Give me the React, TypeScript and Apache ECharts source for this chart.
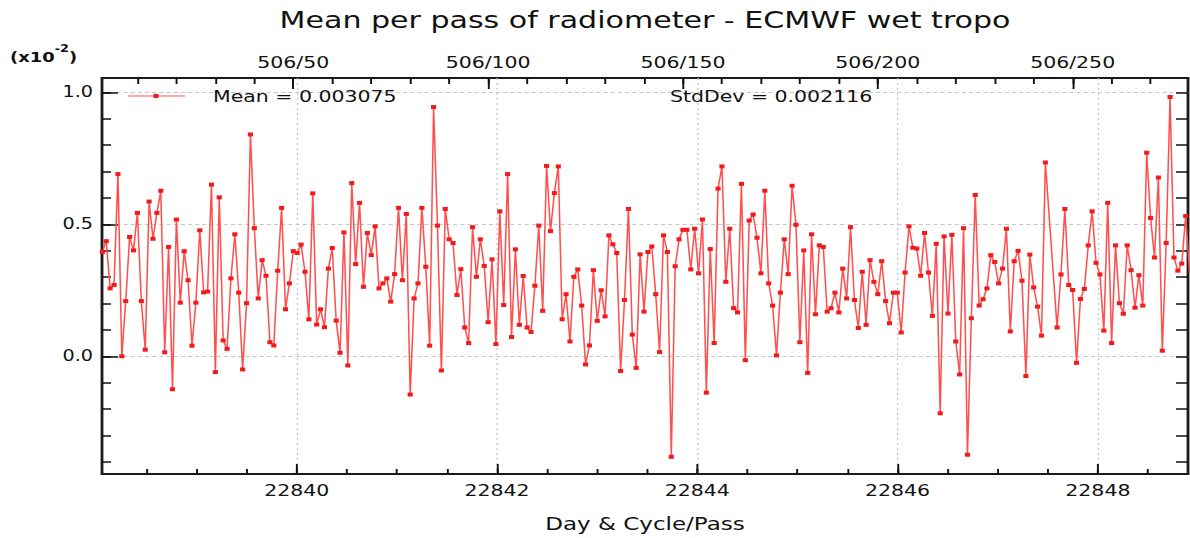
import React, { useEffect, useRef } from 'react';
import * as echarts from 'echarts';

// ---------- texts ----------
const chartTitle = 'Mean per pass of radiometer - ECMWF wet tropo';
const cycleNumber = 506;
const meanLabel = 'Mean = 0.003075';
const stdDevLabel = 'StdDev = 0.002116';
const xAxisTitle = 'Day & Cycle/Pass';

// ---------- data: mean per pass (units of 1e-2), pass numbers start at 1 ----------
const firstPass = 1;
const meanPass001to040 = [
  0.395, 0.436, 0.257, 0.270, 0.690, 0.000, 0.209, 0.452, 0.401, 0.543,
  0.209, 0.025, 0.586, 0.445, 0.543, 0.627, 0.015, 0.414, -0.125, 0.518,
  0.203, 0.398, 0.288, 0.040, 0.203, 0.477, 0.242, 0.245, 0.650, -0.060,
  0.602, 0.060, 0.028, 0.295, 0.462, 0.241, -0.050, 0.201, 0.840, 0.485,
];
const meanPass041to080 = [
  0.219, 0.364, 0.305, 0.053, 0.041, 0.324, 0.562, 0.178, 0.276, 0.398,
  0.391, 0.423, 0.320, 0.140, 0.617, 0.120, 0.178, 0.110, 0.332, 0.410,
  0.135, 0.013, 0.469, -0.035, 0.656, 0.349, 0.581, 0.263, 0.467, 0.383,
  0.492, 0.257, 0.276, 0.295, 0.207, 0.311, 0.562, 0.288, 0.539, -0.145,
];
const meanPass081to120 = [
  0.219, 0.276, 0.562, 0.339, 0.040, 0.944, 0.495, -0.054, 0.558, 0.443,
  0.429, 0.232, 0.330, 0.109, 0.050, 0.489, 0.301, 0.443, 0.342, 0.129,
  0.367, 0.046, 0.549, 0.194, 0.690, 0.073, 0.405, 0.119, 0.304, 0.109,
  0.092, 0.267, 0.495, 0.172, 0.721, 0.474, 0.618, 0.719, 0.140, 0.235,
];
const meanPass121to160 = [
  0.056, 0.301, 0.329, 0.192, -0.031, 0.041, 0.326, 0.134, 0.250, 0.151,
  0.458, 0.424, 0.391, -0.056, 0.213, 0.558, 0.082, -0.044, 0.386, 0.169,
  0.395, 0.416, 0.235, 0.016, 0.458, 0.395, -0.381, 0.341, 0.443, 0.479,
  0.479, 0.329, 0.483, 0.314, 0.518, -0.138, 0.406, 0.050, 0.635, 0.719,
];
const meanPass161to200 = [
  0.282, 0.483, 0.182, 0.166, 0.653, -0.015, 0.514, 0.537, 0.449, 0.314,
  0.627, 0.276, 0.192, 0.003, 0.241, 0.443, 0.311, 0.646, 0.498, 0.053,
  0.401, -0.063, 0.462, 0.159, 0.420, 0.414, 0.169, 0.182, 0.241, 0.166,
  0.332, 0.219, 0.489, 0.213, 0.107, 0.320, 0.119, 0.364, 0.282, 0.235,
];
const meanPass201to240 = [
  0.360, 0.209, 0.125, 0.241, 0.241, 0.090, 0.317, 0.492, 0.411, 0.408,
  0.305, 0.467, 0.317, 0.153, 0.426, -0.216, 0.454, 0.162, 0.460, 0.056,
  -0.069, 0.485, -0.373, 0.144, 0.611, 0.192, 0.216, 0.257, 0.383, 0.357,
  0.276, 0.332, 0.483, 0.094, 0.360, 0.399, 0.286, -0.075, 0.385, 0.261,
];
const meanPass241to280: (number | null)[] = [
  0.188, 0.078, 0.734, null, null, 0.109, 0.310, 0.558, 0.270, 0.251,
  -0.025, 0.217, 0.255, 0.420, 0.549, 0.354, 0.310, 0.097, 0.581, 0.050,
  0.420, 0.201, 0.161, 0.420, 0.326, 0.184, 0.307, 0.192, 0.771, 0.524,
  0.374, 0.677, 0.021, 0.429, 0.982, 0.374, 0.324, 0.351, 0.531, 0.317,
];

// ---------- axes ----------
const dayRange = [22838.055, 22848.9];
const passRange = [0.91, 279.6];
const yRange = [-0.446, 1.054];
const dayLabelTicks = [22840, 22842, 22844, 22846, 22848];
const passLabelTicks = [50, 100, 150, 200, 250];
const yLabelTicks = [0, 0.5, 1.0];
const dayMinorStep = 0.5;
const passMinorStep = 10;
const yMinorStep = 0.1;

const steps = (lo: number, hi: number, step: number) => {
  const out: number[] = [];
  const start = Math.ceil(lo / step - 1e-9);
  const end = Math.floor(hi / step + 1e-9);
  for (let k = start; k <= end; k++) out.push(+(k * step).toFixed(6));
  return out;
};

// ---------- layout (reference is horizontally stretched) ----------
const W = 1190;
const H = 538;
const IW = 930;
const S = W / IW;
const hx = (x: number) => x / S;
const FONT = "'DejaVu Sans', Verdana, sans-serif";
const LINE_COLOR = '#ff4f4f';
const MARK_COLOR = '#f01c1c';

export default function App() {
  const ref = useRef<HTMLDivElement>(null);

  useEffect(() => {
    if (!ref.current) return;
    const chart = echarts.init(ref.current, null, { renderer: 'svg' });

    const allMeans = [
      ...meanPass001to040, ...meanPass041to080, ...meanPass081to120,
      ...meanPass121to160, ...meanPass161to200, ...meanPass201to240,
      ...meanPass241to280,
    ];
    const seriesData = allMeans
      .map((v, i) => [firstPass + i, v] as [number, number | null])
      .filter((d) => d[1] !== null);

    const gridLeft = hx(102);
    const gridRight = IW - hx(1188);
    const gridTop = 78;
    const gridBottom = H - 476;

    const tickStyle = { color: '#111', width: 1.5 };
    const labelStyle = { color: '#111', fontFamily: FONT };

    const option: any = {
      animation: false,
      backgroundColor: '#fff',
      textStyle: { fontFamily: FONT },
      grid: {
        left: gridLeft, right: gridRight, top: gridTop, bottom: gridBottom,
        show: true, borderColor: '#1a1a1a', borderWidth: 2.2,
      },
      xAxis: [
        {
          type: 'value', position: 'bottom', min: dayRange[0], max: dayRange[1],
          axisLine: { show: false, onZero: false },
          axisTick: { show: true, inside: true, length: 10, customValues: dayLabelTicks, lineStyle: tickStyle },
          axisLabel: { ...labelStyle, customValues: dayLabelTicks, fontSize: 16, margin: 8,
            formatter: (v: number) => v.toFixed(0) },
          splitLine: { show: true, lineStyle: { color: '#c6c6c6', width: 1, type: [2, 3] } },
          name: xAxisTitle, nameLocation: 'middle', nameGap: 41,
          nameTextStyle: { ...labelStyle, fontSize: 18 },
        },
        {
          type: 'value', position: 'bottom', min: dayRange[0], max: dayRange[1],
          axisLine: { show: false, onZero: false },
          axisTick: { show: true, inside: true, length: 5,
            customValues: steps(dayRange[0], dayRange[1], dayMinorStep), lineStyle: tickStyle },
          axisLabel: { show: false }, splitLine: { show: false },
        },
        {
          type: 'value', position: 'top', min: passRange[0], max: passRange[1],
          axisLine: { show: false, onZero: false },
          axisTick: { show: true, inside: true, length: 11, customValues: passLabelTicks, lineStyle: tickStyle },
          axisLabel: { ...labelStyle, customValues: passLabelTicks, fontSize: 16, margin: 8,
            formatter: (v: number) => `${cycleNumber}/${v.toFixed(0)}` },
          splitLine: { show: false },
        },
        {
          type: 'value', position: 'top', min: passRange[0], max: passRange[1],
          axisLine: { show: false, onZero: false },
          axisTick: { show: true, inside: true, length: 6,
            customValues: steps(passRange[0], passRange[1], passMinorStep), lineStyle: tickStyle },
          axisLabel: { show: false }, splitLine: { show: false },
        },
      ],
      yAxis: [
        {
          type: 'value', position: 'left', min: yRange[0], max: yRange[1],
          axisLine: { show: false, onZero: false },
          axisTick: { show: true, inside: true, length: hx(16), customValues: yLabelTicks, lineStyle: tickStyle },
          axisLabel: { ...labelStyle, customValues: yLabelTicks, fontSize: 15, margin: hx(9),
            formatter: (v: number) => v.toFixed(1) },
          splitLine: { show: true, lineStyle: { color: '#c6c6c6', width: 1, type: [3.2, 2.4] } },
        },
        {
          type: 'value', position: 'left', min: yRange[0], max: yRange[1],
          axisLine: { show: false, onZero: false },
          axisTick: { show: true, inside: true, length: hx(9),
            customValues: steps(yRange[0], yRange[1], yMinorStep), lineStyle: tickStyle },
          axisLabel: { show: false }, splitLine: { show: false },
        },
        {
          type: 'value', position: 'right', min: yRange[0], max: yRange[1],
          axisLine: { show: false, onZero: false },
          axisTick: { show: true, inside: true, length: hx(12),
            customValues: steps(yRange[0], yRange[1], yMinorStep), lineStyle: tickStyle },
          axisLabel: { show: false }, splitLine: { show: false },
        },
      ],
      series: [
        {
          type: 'line', name: meanLabel, xAxisIndex: 2, yAxisIndex: 0,
          data: seriesData, symbol: 'rect', symbolSize: [4, 4], showSymbol: true,
          connectNulls: true, clip: true, silent: true,
          lineStyle: { color: LINE_COLOR, width: 1.2 },
          itemStyle: { color: MARK_COLOR },
          z: 3,
        },
      ],
      graphic: [
        {
          type: 'text', x: hx(645), y: 20,
          style: { text: chartTitle, fontSize: 23.5, fontFamily: FONT, fill: '#111',
            align: 'center', verticalAlign: 'middle' },
        },
        {
          type: 'text', x: hx(10), y: 54,
          style: {
            text: '{a|(x10}{b|-2}{a|)}', fill: '#111', align: 'left', verticalAlign: 'middle',
            rich: {
              a: { fontSize: 14, fontWeight: 'bold', fontFamily: FONT, lineHeight: 20, verticalAlign: 'bottom', fill: '#111' },
              b: { fontSize: 10, fontWeight: 'bold', fontFamily: FONT, lineHeight: 20, verticalAlign: 'top', fill: '#111' },
            },
          },
        },
        {
          type: 'line', shape: { x1: hx(128), y1: 96, x2: hx(185), y2: 96 },
          style: { stroke: LINE_COLOR, lineWidth: 1.2 }, z: 10,
        },
        {
          type: 'rect', shape: { x: hx(156) - 2, y: 94, width: 4, height: 4 },
          style: { fill: MARK_COLOR }, z: 11,
        },
        {
          type: 'text', x: hx(213), y: 96, z: 10,
          style: { text: meanLabel, fontSize: 16, fontFamily: FONT, fill: '#111',
            align: 'left', verticalAlign: 'middle' },
        },
        {
          type: 'text', x: hx(670), y: 96, z: 10,
          style: { text: stdDevLabel, fontSize: 16, fontFamily: FONT, fill: '#111',
            align: 'left', verticalAlign: 'middle' },
        },
      ],
    };

    chart.setOption(option);
    return () => chart.dispose();
  }, []);

  return (
    <div style={{ position: 'fixed', left: 0, top: 0, width: W, height: H, overflow: 'hidden', background: '#fff' }}>
      <div ref={ref} style={{ width: IW, height: H, transform: `scaleX(${S})`, transformOrigin: '0 0' }} />
    </div>
  );
}
